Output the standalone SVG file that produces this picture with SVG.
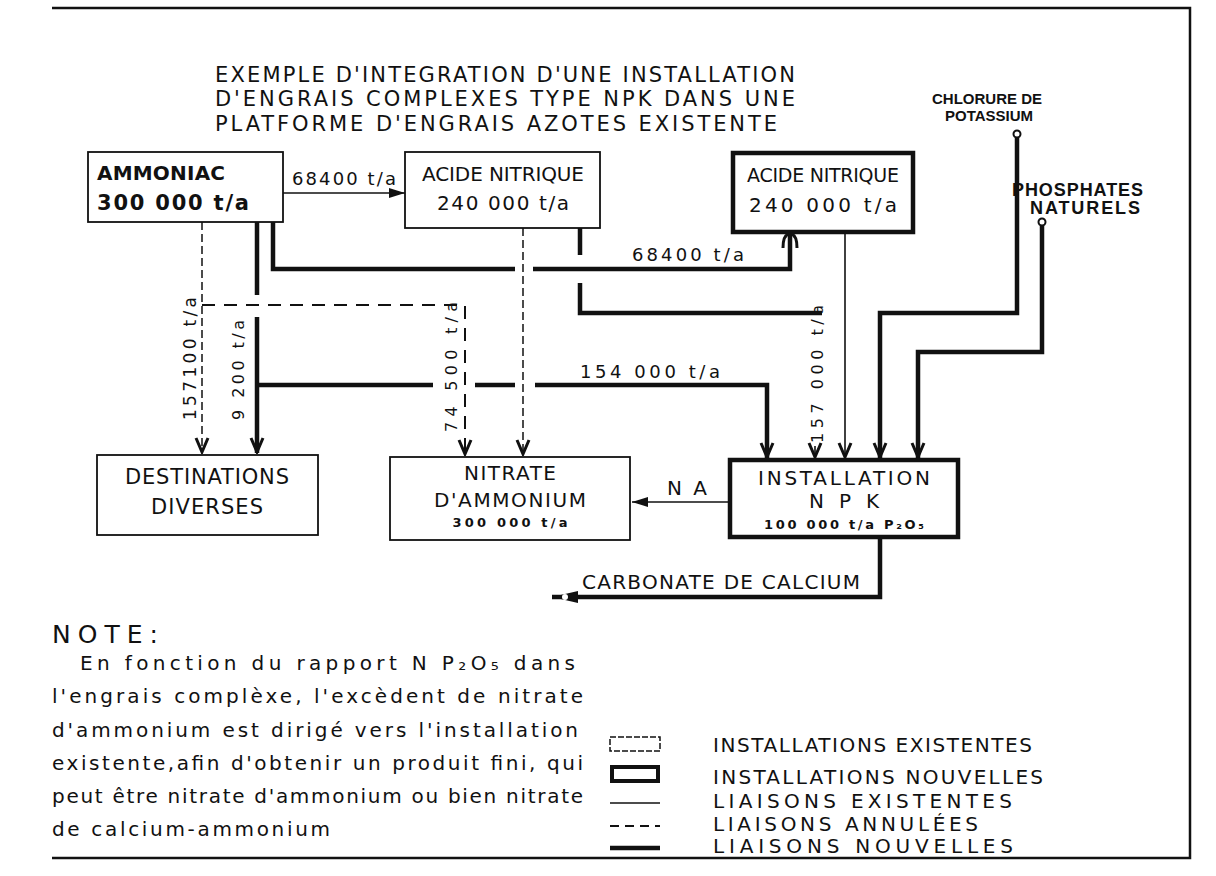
<svg xmlns="http://www.w3.org/2000/svg" width="1216" height="876" viewBox="0 0 1216 876">
<style>
.t{font-family:"DejaVu Sans","Liberation Sans",sans-serif;fill:#111}
.c{font-family:"Liberation Sans","DejaVu Sans",sans-serif;font-weight:bold;fill:#111}
.b{font-weight:bold}
.thin{stroke:#111;stroke-width:1.6;fill:none}
.thick{stroke:#111;stroke-width:4.5;fill:none}
.dash{stroke:#111;stroke-width:2;fill:none;stroke-dasharray:13 9}
.dot{stroke:#111;stroke-width:1.5;fill:none;stroke-dasharray:8 4}
.old{fill:none;stroke:#111;stroke-width:1.8}
.new{fill:none;stroke:#111;stroke-width:4.5}
</style>
<defs>
<marker id="v" viewBox="-1 -8 17 16" refX="15" refY="0" markerWidth="17" markerHeight="16" markerUnits="userSpaceOnUse" orient="auto">
<path d="M0,-6 L14,0 L0,6" fill="none" stroke="#111" stroke-width="3"/>
</marker>
<marker id="f" viewBox="-1 -7 18 14" refX="16" refY="0" markerWidth="18" markerHeight="14" markerUnits="userSpaceOnUse" orient="auto">
<path d="M0,-5 L16,0 L0,5 Z" fill="#111"/>
</marker>
<marker id="fc" viewBox="-1 -8 28 16" refX="26" refY="0" markerWidth="28" markerHeight="16" markerUnits="userSpaceOnUse" orient="auto">
<path d="M0,-6 L26,0 L0,6 Z" fill="#111"/>
<circle cx="13" cy="0" r="3" fill="#fff"/>
</marker>
<marker id="d" viewBox="-1 -9 16 18" refX="14" refY="0" markerWidth="16" markerHeight="18" markerUnits="userSpaceOnUse" orient="auto">
<path d="M0,-7 Q14,-7 14,0 Q14,7 0,7" fill="none" stroke="#111" stroke-width="3"/>
</marker>
</defs>

<path d="M52,8 H1190 V858 H52" fill="none" stroke="#111" stroke-width="2.5"/>

<g id="title" class="t" font-size="21">
<text x="215" y="82" textLength="580">EXEMPLE D'INTEGRATION D'UNE INSTALLATION</text>
<text x="215" y="106" textLength="580">D'ENGRAIS COMPLEXES TYPE NPK DANS UNE</text>
<text x="215" y="131" textLength="562">PLATFORME D'ENGRAIS AZOTES  EXISTENTE</text>
</g>

<g id="connectors">
<line class="thin" x1="283" y1="193" x2="405" y2="193" marker-end="url(#f)"/>
<text class="t" x="292" y="185" font-size="18" textLength="104">68400 t/a</text>

<path class="thick" d="M273,222 V269 H515 M533,269 H790 V234" marker-end="url(#d)"/>
<text class="t" x="632" y="261" font-size="18" textLength="112">68400 t/a</text>

<path class="thick" d="M580,228 V255 M580,283 V313 H822"/>
<text class="t" font-size="16" transform="translate(823,443) rotate(-90)" textLength="138">157 000 t/a</text>
<path class="thin" d="M815,446 V458" marker-end="url(#v)"/>

<path class="thin" d="M845,232 V458" marker-end="url(#v)"/>
<circle cx="1017" cy="134" r="3.5" fill="none" stroke="#111" stroke-width="2"/>
<path class="thick" d="M1017,138 V313 H880 V458" marker-end="url(#v)"/>
<circle cx="1042" cy="222" r="3.5" fill="none" stroke="#111" stroke-width="2"/>
<path class="thick" d="M1042,226 V352 H918 V458" marker-end="url(#v)"/>

<path class="dot" d="M202,222 V453" marker-end="url(#v)"/>
<text class="t" font-size="17" transform="translate(196,420) rotate(-90)" textLength="123">157100 t/a</text>

<path class="dash" d="M202,305 H465 V455" marker-end="url(#v)"/>
<text class="t" font-size="16" transform="translate(457,432) rotate(-90)" textLength="130">74 500 t/a</text>

<path class="thick" d="M257,222 V295 M257,317 V453" marker-end="url(#v)"/>
<text class="t" font-size="16" transform="translate(244,420) rotate(-90)" textLength="100">9 200 t/a</text>

<path class="thick" d="M257,385 H433 M475,385 H515 M535,385 H767 V458" marker-end="url(#v)"/>
<text class="t" x="580" y="378" font-size="18" textLength="140">154 000 t/a</text>

<path class="dot" d="M523,228 V455" marker-end="url(#v)"/>

<line class="thin" x1="730" y1="502" x2="632" y2="502" marker-end="url(#f)"/>
<text class="t" x="667" y="495" font-size="20" textLength="40">N A</text>

<path class="thick" d="M880,537 V597 H552" marker-end="url(#fc)"/>
<text class="t" x="582" y="589" font-size="20" textLength="278">CARBONATE DE CALCIUM</text>
</g>

<g id="ammoniac">
<rect class="old" x="88" y="152" width="195" height="70"/>
<text class="t b" x="97" y="180" font-size="20" textLength="128">AMMONIAC</text>
<text class="t b" x="97" y="210" font-size="21" textLength="152">300 000 t/a</text>
</g>
<g id="acide1">
<rect class="old" x="405" y="152" width="195" height="76"/>
<text class="t" x="503" y="181" font-size="20" text-anchor="middle" textLength="162">ACIDE NITRIQUE</text>
<text class="t" x="503" y="210" font-size="20" text-anchor="middle" textLength="132">240 000 t/a</text>
</g>
<g id="acide2">
<rect class="new" x="733" y="153" width="180" height="79"/>
<text class="t" x="823" y="182" font-size="19" text-anchor="middle" textLength="152">ACIDE NITRIQUE</text>
<text class="t" x="823" y="212" font-size="20" text-anchor="middle" textLength="148">240 000 t/a</text>
</g>
<g id="chlorure">
<text class="c" x="932" y="104" font-size="15">CHLORURE DE</text>
<text class="c" x="945" y="121" font-size="15">POTASSIUM</text>
</g>
<g id="phosphates">
<text class="c" x="1012" y="196" font-size="18" textLength="131">PHOSPHATES</text>
<text class="c" x="1030" y="214" font-size="18" textLength="110">NATURELS</text>
</g>
<g id="destinations">
<rect class="old" x="97" y="455" width="221" height="80"/>
<text class="t" x="207" y="484" font-size="21" text-anchor="middle" textLength="164">DESTINATIONS</text>
<text class="t" x="207" y="514" font-size="21" text-anchor="middle" textLength="112">DIVERSES</text>
</g>
<g id="nitrate">
<rect class="old" x="390" y="457" width="240" height="83"/>
<text class="t" x="510" y="480" font-size="20" text-anchor="middle" textLength="92">NITRATE</text>
<text class="t" x="510" y="507" font-size="20" text-anchor="middle" textLength="152">D'AMMONIUM</text>
<text class="t b" x="510" y="527" font-size="13" text-anchor="middle" textLength="115">300 000 t/a</text>
</g>
<g id="npk">
<rect class="new" x="730" y="460" width="228" height="77"/>
<text class="t" x="844" y="485" font-size="20" text-anchor="middle" textLength="172">INSTALLATION</text>
<text class="t" x="844" y="508" font-size="20" text-anchor="middle" textLength="70">N P K</text>
<text class="t b" x="844" y="529" font-size="13" text-anchor="middle" textLength="160">100 000 t/a P₂O₅</text>
</g>

<g id="note" class="t">
<text x="52" y="643" font-size="25" textLength="106">NOTE:</text>
<text x="80" y="670" font-size="20" textLength="495">En fonction du rapport N P₂O₅ dans</text>
<text x="52" y="703" font-size="20" textLength="531">l'engrais complèxe, l'excèdent de nitrate</text>
<text x="52" y="737" font-size="20" textLength="526">d'ammonium est dirigé vers l'installation</text>
<text x="52" y="770" font-size="20" textLength="531">existente,afin d'obtenir un produit fini, qui</text>
<text x="52" y="803" font-size="20" textLength="531">peut être nitrate d'ammonium ou bien nitrate</text>
<text x="52" y="836" font-size="20" textLength="278">de calcium-ammonium</text>
</g>

<g id="legend" class="t" font-size="20">
<rect x="610" y="737" width="50" height="14" fill="none" stroke="#111" stroke-width="1.5" stroke-dasharray="6 2"/>
<text x="713" y="752" textLength="319">INSTALLATIONS EXISTENTES</text>
<rect x="612" y="767" width="46" height="14" fill="none" stroke="#111" stroke-width="4"/>
<text x="713" y="784" textLength="330">INSTALLATIONS NOUVELLES</text>
<line x1="610" y1="803" x2="660" y2="803" stroke="#111" stroke-width="1.6"/>
<text x="713" y="808" textLength="299">LIAISONS EXISTENTES</text>
<line x1="610" y1="826" x2="660" y2="826" stroke="#111" stroke-width="2" stroke-dasharray="9 6"/>
<text x="713" y="831" textLength="265">LIAISONS ANNULÉES</text>
<line x1="610" y1="848" x2="660" y2="848" stroke="#111" stroke-width="4.5"/>
<text x="713" y="853" textLength="300">LIAISONS NOUVELLES</text>
</g>
</svg>
